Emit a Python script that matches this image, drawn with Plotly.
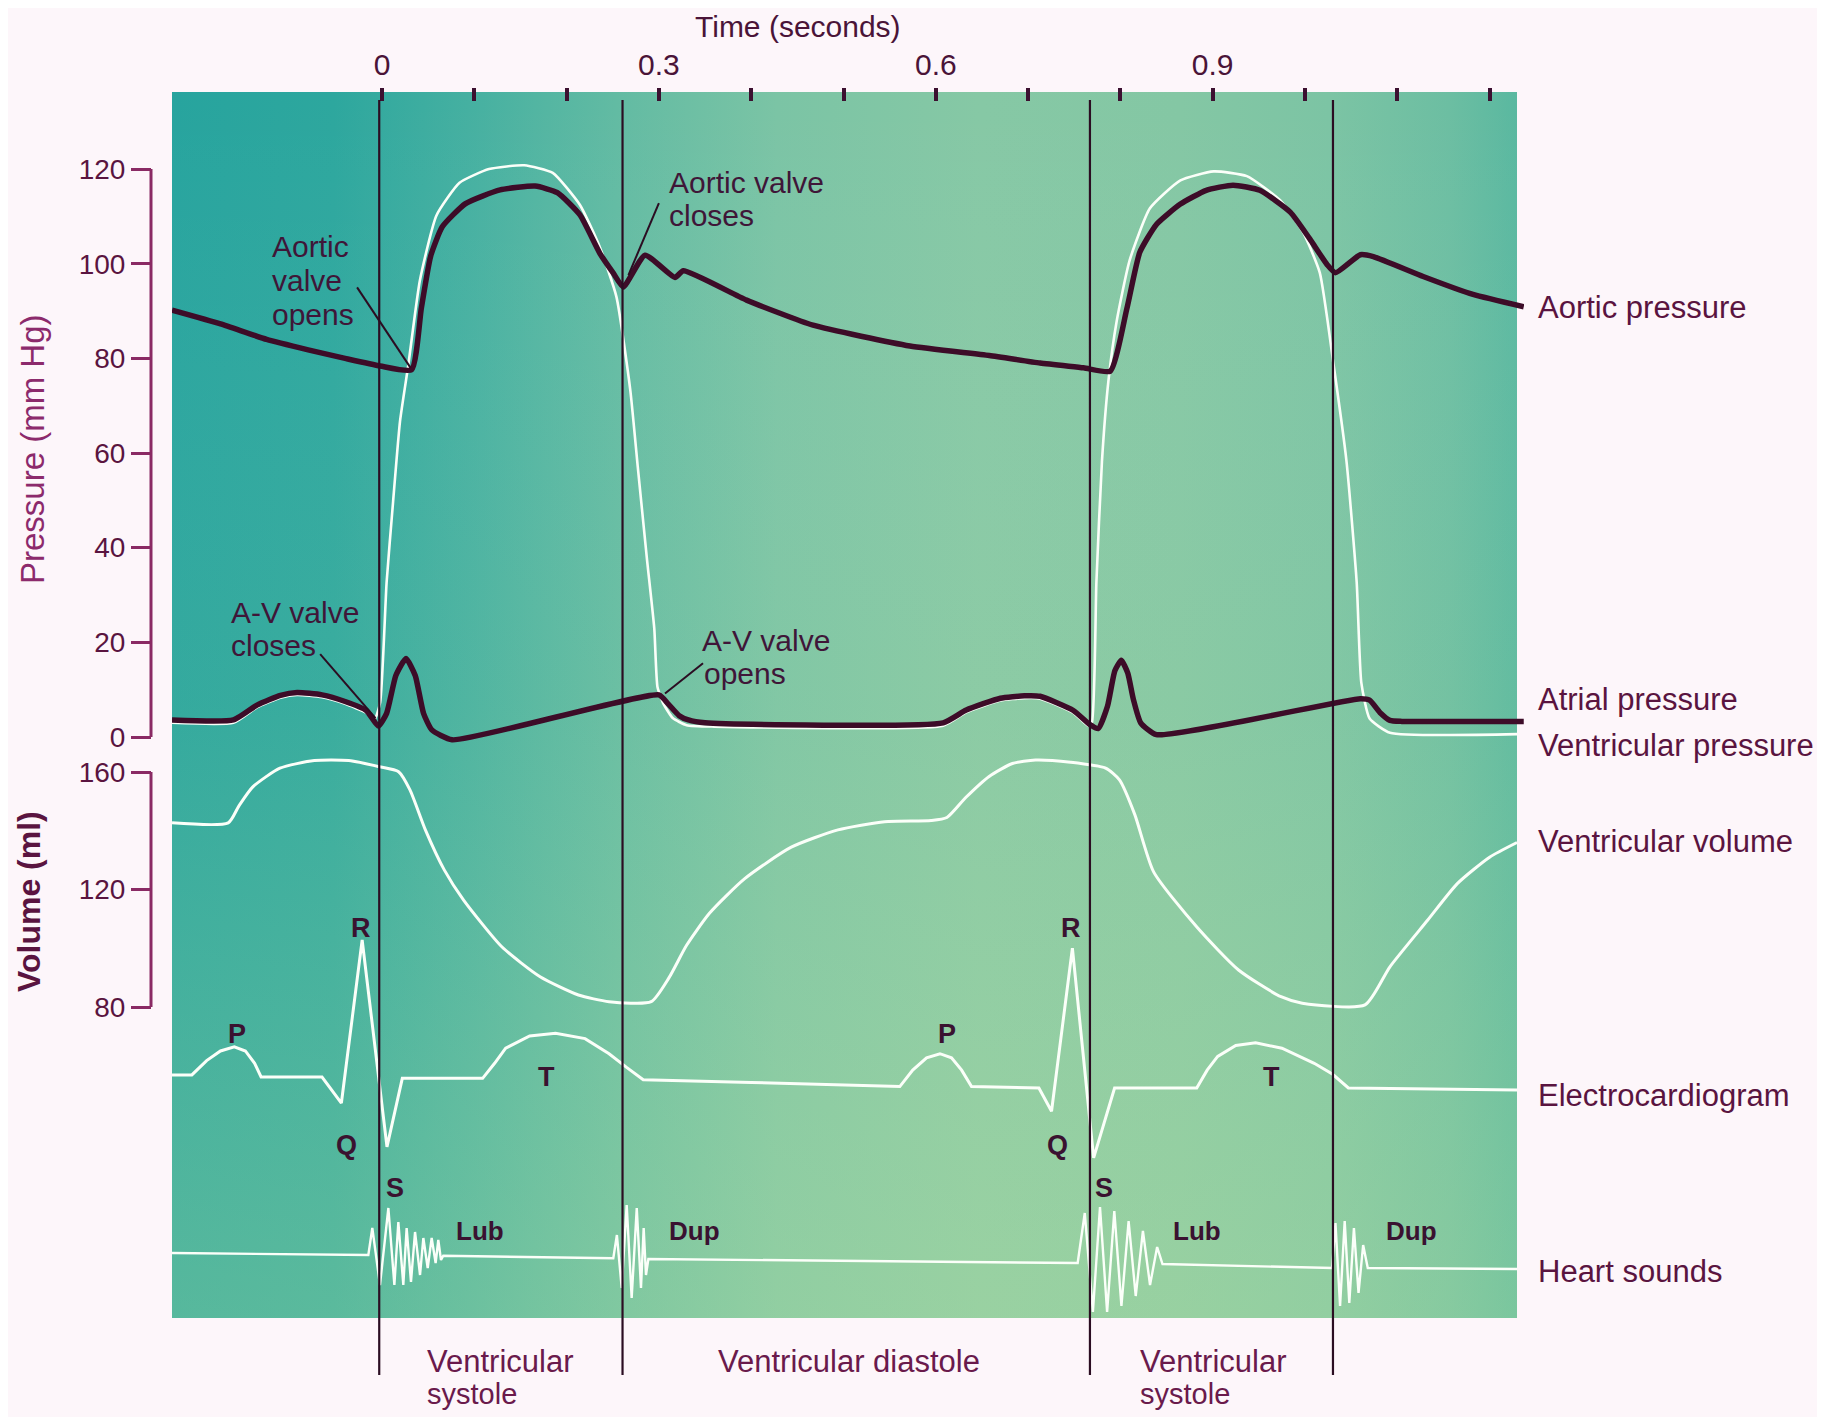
import base64
import plotly.graph_objects as go

# page body has an 8 px margin: the figure is sized/positioned to fill the window exactly
OFF = 8
W, H = 1825 - OFF, 1417 - OFF

# ---------------- data ----------------
TIME_TICKS = [0.0, 0.1, 0.2, 0.3, 0.4, 0.5, 0.6, 0.7, 0.8, 0.9, 1.0, 1.1, 1.2]
TIME_TICK_TEXT = ["0", "", "", "0.3", "", "", "0.6", "", "", "0.9", "", "", ""]
PRESSURE_TICKS = [0, 20, 40, 60, 80, 100, 120]
VOLUME_TICKS = [80, 120, 160]
EVENT_TIMES = [-0.003, 0.2606, 0.767, 1.0303]  # phase boundaries (s)

aortic_t = [-0.2275, -0.175, -0.125, -0.080, -0.040, -0.002, 0.032, 0.0426, 0.0527, 0.0653,
            0.0905, 0.128, 0.166, 0.190, 0.2145, 0.236, 0.2506, 0.2614, 0.285, 0.3174,
            0.3265, 0.395, 0.467, 0.572, 0.658, 0.713, 0.760, 0.789, 0.807, 0.821,
            0.839, 0.865, 0.893, 0.922, 0.951, 0.984, 1.005, 1.024, 1.033, 1.060,
            1.074, 1.128, 1.182, 1.237]
aortic_p = [90.2, 87.3, 84.0, 81.8, 80.0, 78.4, 77.6, 90.6, 101.6, 107.8,
            112.7, 115.6, 116.4, 115.0, 110.3, 102.2, 98.0, 95.1, 101.8, 97.1,
            98.5, 92.3, 87.0, 82.6, 80.6, 79.0, 78.0, 77.3, 90.5, 102.4,
            108.3, 112.6, 115.5, 116.6, 115.5, 110.9, 105.3, 99.8, 98.1, 101.9,
            101.5, 97.3, 93.5, 90.9]

vent_t = [-0.2275, -0.161, -0.135, -0.110, -0.092, -0.065, -0.040, -0.017, -0.008, -0.002,
          0.005, 0.012, 0.0195, 0.0285, 0.041, 0.059, 0.084, 0.116, 0.154, 0.185,
          0.2145, 0.236, 0.254, 0.269, 0.277, 0.287, 0.295, 0.2985, 0.305, 0.315,
          0.330, 0.360, 0.608, 0.633, 0.670, 0.696, 0.713, 0.749, 0.765, 0.769,
          0.774, 0.780, 0.787, 0.796, 0.810, 0.832, 0.865, 0.901, 0.937, 0.973,
          0.998, 1.016, 1.031, 1.045, 1.056, 1.061, 1.070, 1.092, 1.2297]
vent_p = [3.0, 3.0, 6.3, 8.3, 8.9, 8.4, 7.0, 5.1, 3.8, 7.3,
          32.7, 49.7, 66.7, 78.6, 96.4, 110.2, 117.1, 120.0, 120.8, 119.2,
          112.4, 103.5, 93.0, 73.3, 57.3, 37.7, 22.9, 10.5, 7.0, 4.0,
          2.5, 2.2, 2.4, 5.2, 7.7, 8.2, 8.1, 5.1, 2.4, 3.0,
          32.7, 58.2, 75.2, 87.9, 100.7, 111.7, 117.6, 119.5, 118.5, 113.4,
          106.6, 98.1, 78.6, 58.2, 32.7, 11.5, 3.9, 0.9, 0.6]

atr_t = [-0.2275, -0.161, -0.135, -0.110, -0.092, -0.065, -0.040, -0.017, -0.004, 0.005,
         0.015, 0.026, 0.036, 0.045, 0.054, 0.076, 0.300, 0.310, 0.322, 0.332,
         0.350, 0.608, 0.633, 0.670, 0.696, 0.713, 0.749, 0.767, 0.776, 0.786,
         0.794, 0.801, 0.808, 0.814, 0.822, 0.839, 1.060, 1.070, 1.082, 1.092,
         1.105, 1.237]
atr_p = [3.6, 3.6, 6.8, 8.8, 9.4, 8.9, 7.5, 5.6, 2.3, 5.0,
         13.0, 16.6, 13.0, 5.0, 1.5, -0.6, 8.9, 7.0, 4.5, 3.6,
         3.0, 3.0, 5.7, 8.2, 8.7, 8.6, 5.6, 2.6, 1.8, 6.5,
         14.0, 16.2, 13.5, 8.0, 3.0, 0.5, 8.1, 7.8, 5.0, 3.5,
         3.3, 3.3]

vol_t = [-0.2275, -0.1666, -0.155, -0.1397, -0.1106, -0.0733, -0.036, -0.003, 0.018, 0.0303,
         0.047, 0.0676, 0.0884, 0.1298, 0.1713, 0.2128, 0.246, 0.2916, 0.311, 0.330,
         0.355, 0.393, 0.4434, 0.494, 0.5446, 0.595, 0.612, 0.6327, 0.6578, 0.683,
         0.708, 0.746, 0.784, 0.799, 0.8156, 0.836, 0.8826, 0.928, 0.974, 0.997,
         1.065, 1.092, 1.133, 1.165, 1.200, 1.2297]
vol_ml = [142.7, 142.7, 148.5, 155.0, 161.3, 163.9, 163.9, 161.8, 160.1, 153.9,
          140.3, 126.6, 116.4, 100.5, 90.3, 84.1, 81.8, 81.8, 90.0, 101.0,
          112.0, 123.7, 134.4, 140.3, 143.1, 143.5, 144.5, 151.4, 158.5, 162.9,
          164.1, 163.3, 161.3, 157.3, 145.5, 126.0, 107.3, 92.6, 83.5, 81.3,
          80.7, 93.7, 109.6, 122.0, 131.0, 136.0]

ecg_t = [-0.2275, -0.206, -0.190, -0.175, -0.160, -0.148, -0.138, -0.131, -0.065, -0.044,
         -0.0215, 0.0054, 0.022, 0.109, 0.122, 0.134, 0.160, 0.188, 0.220, 0.246,
         0.265, 0.283, 0.400, 0.561, 0.575, 0.590, 0.6045, 0.617, 0.628, 0.6387,
         0.7117, 0.7254, 0.748, 0.771, 0.7937, 0.8827, 0.894, 0.9054, 0.925, 0.9465,
         0.975, 1.010, 1.030, 1.047, 1.2297]
ecg_mv = [0.015, 0.015, 0.12, 0.19, 0.22, 0.19, 0.10, 0.0, 0.0, -0.19,
          1.0, -0.51, -0.01, -0.01, 0.10, 0.21, 0.30, 0.32, 0.28, 0.17,
          0.07, -0.02, -0.04, -0.07, 0.05, 0.14, 0.17, 0.14, 0.05, -0.07,
          -0.08, -0.25, 0.94, -0.59, -0.08, -0.08, 0.05, 0.15, 0.23, 0.25,
          0.21, 0.10, 0.02, -0.08, -0.095]

hs_t = [-0.2275, -0.0148, -0.0105, -0.0022, 0.0069, 0.0134, 0.0177, 0.0231, 0.0267, 0.0314,
        0.0358, 0.0412, 0.0448, 0.0495, 0.0538, 0.0581, 0.061, 0.0639, 0.0664,
        0.2506, 0.2545, 0.2597, 0.2651, 0.2705, 0.276, 0.2806, 0.2835, 0.286, 0.2886,
        0.7537, 0.7614, 0.7702, 0.7779, 0.7856, 0.7934, 0.8011, 0.8089, 0.8166, 0.8244,
        0.8321, 0.8398, 0.8456,
        1.0293, 1.033, 1.038, 1.043, 1.048, 1.053, 1.058, 1.063, 1.068, 1.2297]
hs_amp = [0.0, -0.2, 2.5, -3.2, 4.5, -3.2, 3.1, -3.2, 2.5, -2.9,
          2.1, -2.2, 1.5, -1.5, 1.5, -1.0, 1.3, -0.7, -0.27,
          -0.53, 1.8, -3.5, 4.8, -4.5, 4.5, -3.5, 2.5, -2.2, -0.6,
          -1.0, 4.0, -5.9, 4.6, -5.9, 4.2, -5.3, 3.2, -4.3, 2.2,
          -3.2, 0.6, -1.1,
          -1.5, 3.0, -5.3, 3.2, -5.0, 2.5, -4.0, 0.8, -1.5, -1.6]

# ---------------- layout geometry (window pixels) ----------------
FONT = "Liberation Sans, Arial, Helvetica, sans-serif"
X0_PX, PX_PER_S = 382.0, 923.0
P0_PX, PX_PER_MMHG = 737.0, 4.733
V160_PX, PX_PER_ML = 772.0, 2.9375
E0_PX, PX_PER_MV = 1077.0, 137.0
S0_PX, PX_PER_AU = 1253.0, 10.0
PANEL = (172, 92, 1517, 1318)  # left, top, right, bottom


def px(x):
    return (x - OFF) / W


def py(y):
    return 1 - (y - OFF) / H


def t_of(x):
    return (x - X0_PX) / PX_PER_S


def p_of(y):
    return (P0_PX - y) / PX_PER_MMHG


def v_of(y):
    return 160 - (y - V160_PX) / PX_PER_ML


def e_of(y):
    return (E0_PX - y) / PX_PER_MV


def s_of(y):
    return (S0_PX - y) / PX_PER_AU


DARK = "#3d0c28"
WHITE = "#fbfff9"
AXC = "#8a2a64"
LBL = "#5a1440"
INK = "#3f1638"

fig = go.Figure()
fig.add_trace(go.Scatter(x=vent_t, y=vent_p, mode="lines", yaxis="y",
                         line=dict(color=WHITE, width=2.6, shape="spline", smoothing=0.5),
                         name="Ventricular pressure"))
fig.add_trace(go.Scatter(x=aortic_t, y=aortic_p, mode="lines", yaxis="y",
                         line=dict(color=DARK, width=5.5, shape="spline", smoothing=0.5),
                         name="Aortic pressure"))
fig.add_trace(go.Scatter(x=atr_t, y=atr_p, mode="lines", yaxis="y",
                         line=dict(color=DARK, width=5.5, shape="spline", smoothing=0.5),
                         name="Atrial pressure"))
fig.add_trace(go.Scatter(x=vol_t, y=vol_ml, mode="lines", yaxis="y2",
                         line=dict(color=WHITE, width=3, shape="spline", smoothing=0.6),
                         name="Ventricular volume"))
fig.add_trace(go.Scatter(x=ecg_t, y=ecg_mv, mode="lines", yaxis="y3",
                         line=dict(color=WHITE, width=3),
                         name="Electrocardiogram"))
fig.add_trace(go.Scatter(x=hs_t, y=hs_amp, mode="lines", yaxis="y4",
                         line=dict(color=WHITE, width=2.4),
                         name="Heart sounds"))

# background gradient panel
svg = (
    "<svg xmlns='http://www.w3.org/2000/svg' width='1345' height='1226' "
    "viewBox='0 0 1345 1226' preserveAspectRatio='none'>"
    "<defs>"
    "<linearGradient id='h' x1='0' y1='0' x2='1' y2='0'>"
    "<stop offset='0' stop-color='#27a49e'/>"
    "<stop offset='0.12' stop-color='#2da79e'/>"
    "<stop offset='0.22' stop-color='#45b0a1'/>"
    "<stop offset='0.33' stop-color='#62bba3'/>"
    "<stop offset='0.45' stop-color='#7bc4a5'/>"
    "<stop offset='0.60' stop-color='#86c8a5'/>"
    "<stop offset='0.75' stop-color='#84c7a4'/>"
    "<stop offset='0.86' stop-color='#7cc4a4'/>"
    "<stop offset='0.95' stop-color='#6cbea2'/>"
    "<stop offset='1' stop-color='#5ab8a0'/>"
    "</linearGradient>"
    "<linearGradient id='v' x1='0' y1='0' x2='0' y2='1'>"
    "<stop offset='0' stop-color='#ffffff' stop-opacity='0'/>"
    "<stop offset='0.5' stop-color='#d0eca0' stop-opacity='0.08'/>"
    "<stop offset='1' stop-color='#c6e79a' stop-opacity='0.30'/>"
    "</linearGradient>"
    "</defs>"
    "<rect width='1345' height='1226' fill='url(#h)'/>"
    "<rect width='1345' height='1226' fill='url(#v)'/>"
    "</svg>"
)
src = "data:image/svg+xml;base64," + base64.b64encode(svg.encode()).decode()
fig.add_layout_image(dict(source=src, xref="paper", yref="paper",
                          x=px(PANEL[0]), y=py(PANEL[1]),
                          sizex=(PANEL[2] - PANEL[0]) / W, sizey=(PANEL[3] - PANEL[1]) / H,
                          xanchor="left", yanchor="top", sizing="stretch", layer="below"))

shapes = []
# axis brackets
shapes.append(dict(type="line", xref="paper", yref="y", x0=px(151), x1=px(151),
                   y0=PRESSURE_TICKS[0], y1=PRESSURE_TICKS[-1], line=dict(color=AXC, width=3)))
shapes.append(dict(type="line", xref="paper", yref="y2", x0=px(151), x1=px(151),
                   y0=VOLUME_TICKS[0], y1=VOLUME_TICKS[-1], line=dict(color=AXC, width=3)))
# event lines
for et in EVENT_TIMES:
    shapes.append(dict(type="line", xref="x", yref="paper", x0=et, x1=et,
                       y0=py(1375), y1=py(100), line=dict(color="#2b0d22", width=2.2),
                       layer="above"))
# pointer lines for valve annotations
for (xa, ya, xb, yb) in [(-0.027, 95.0, 0.031, 78.0), (-0.067, 17.5, -0.007, 4.0),
                         (0.300, 112.8, 0.267, 97.6), (0.3478, 15.6, 0.3066, 9.2)]:
    shapes.append(dict(type="line", xref="x", yref="y", x0=xa, y0=ya, x1=xb, y1=yb,
                       line=dict(color="#2b0d22", width=2), layer="above"))

ann = []


def label(text, x, y, size=30, color=INK, xanchor="left", angle=0, yanchor="middle"):
    ann.append(dict(text=text, x=px(x), y=py(y), xref="paper", yref="paper",
                    xanchor=xanchor, yanchor=yanchor, showarrow=False, textangle=angle,
                    font=dict(size=size, color=color, family=FONT)))


label("Time (seconds)", 798, OFF, size=30, color="#4a1438", xanchor="center", yanchor="top")
label("Pressure (mm Hg)", 32, 449, size=33, color="#8c2a6c", xanchor="center", angle=-90)
label("<b>Volume (ml)</b>", 29, 902, size=32, color=LBL, xanchor="center", angle=-90)

label("Aortic", 270, 247, size=30)
label("valve", 270, 280, size=30)
label("opens", 270, 314, size=30)
label("A-V valve", 229, 612, size=30)
label("closes", 229, 645, size=30)
label("Aortic valve", 667, 182, size=30)
label("closes", 667, 215, size=30)
label("A-V valve", 700, 640, size=30)
label("opens", 702, 673, size=30)

for txt, yy in [("Aortic pressure", 308), ("Atrial pressure", 699),
                ("Ventricular pressure", 745), ("Ventricular volume", 842),
                ("Electrocardiogram", 1095), ("Heart sounds", 1271)]:
    label(txt, 1536, yy, size=31, color=LBL)

for txt, xx, yy in [("P", 237, 1034), ("R", 361, 928), ("Q", 346, 1145), ("S", 395, 1188),
                    ("T", 546, 1077), ("P", 947, 1034), ("R", 1071, 928), ("Q", 1057, 1145),
                    ("S", 1104, 1188), ("T", 1271, 1077)]:
    label("<b>" + txt + "</b>", xx, yy, size=27, color="#3a1230", xanchor="center")
for txt, xx, yy in [("Lub", 480, 1231), ("Dup", 694, 1231), ("Lub", 1197, 1231),
                    ("Dup", 1411, 1231)]:
    label("<b>" + txt + "</b>", xx, yy, size=26, color="#3a1230", xanchor="center")

label("Ventricular", 425, 1361, size=31, color="#6a1a4c")
label("systole", 425, 1394, size=29, color="#6a1a4c")
label("Ventricular diastole", 716, 1361, size=31, color="#6a1a4c")
label("Ventricular", 1138, 1361, size=31, color="#6a1a4c")
label("systole", 1138, 1394, size=29, color="#6a1a4c")

fig.update_layout(
    width=W, height=H, margin=dict(l=0, r=0, t=0, b=0),
    paper_bgcolor="#fdf6fa", plot_bgcolor="rgba(0,0,0,0)",
    showlegend=False, font=dict(family=FONT),
    shapes=shapes, annotations=ann,
    xaxis=dict(domain=[px(PANEL[0]), px(1524)], range=[t_of(PANEL[0]), t_of(1524)],
               side="top", anchor="free", position=py(87),
               tickmode="array", tickvals=TIME_TICKS, ticktext=TIME_TICK_TEXT,
               ticks="inside", ticklen=13, tickwidth=3.5, tickcolor="#3c1030",
               tickfont=dict(size=30, color="#4a1438"), ticklabelstandoff=6,
               showline=False, showgrid=False, zeroline=False, automargin=False),
    yaxis=dict(domain=[py(760), py(92)], range=[p_of(760), p_of(92)],
               anchor="free", position=px(151),
               tickmode="array", tickvals=PRESSURE_TICKS,
               ticks="outside", ticklen=20, tickwidth=3, tickcolor=AXC,
               tickfont=dict(size=28, color=LBL),
               showline=False, showgrid=False, zeroline=False, automargin=False),
    yaxis2=dict(domain=[py(1030), py(740)], range=[v_of(1030), v_of(740)],
                anchor="free", position=px(151),
                tickmode="array", tickvals=VOLUME_TICKS,
                ticks="outside", ticklen=20, tickwidth=3, tickcolor=AXC,
                tickfont=dict(size=28, color=LBL),
                showline=False, showgrid=False, zeroline=False, automargin=False),
    yaxis3=dict(domain=[py(1180), py(880)], range=[e_of(1180), e_of(880)],
                anchor="x", visible=False),
    yaxis4=dict(domain=[py(1318), py(1185)], range=[s_of(1318), s_of(1185)],
                anchor="x", visible=False),
)

fig.write_html("out.html")
